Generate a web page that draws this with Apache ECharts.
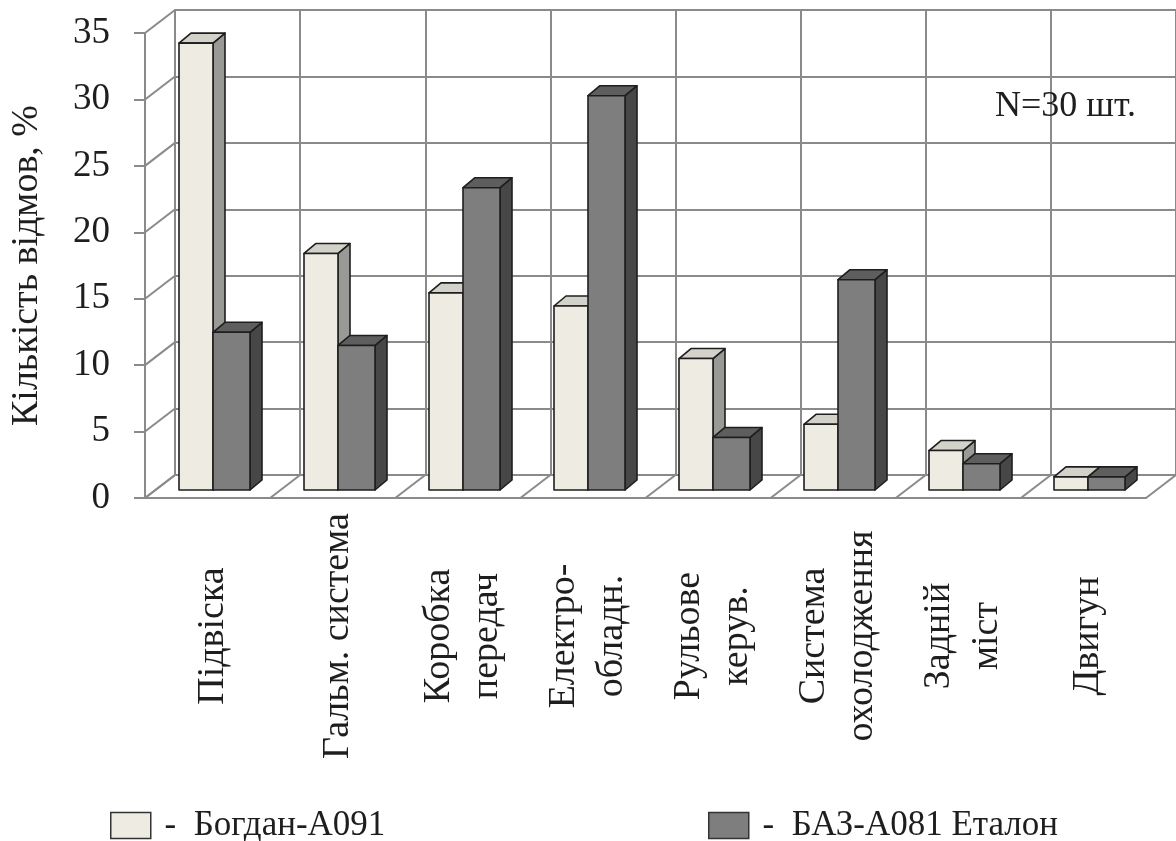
<!DOCTYPE html>
<html>
<head>
<meta charset="utf-8">
<script src="https://cdn.jsdelivr.net/npm/echarts@6.0.0/dist/echarts.min.js"></script>
<style>
  html, body { margin: 0; padding: 0; background: #fff; }
  #chart { width: 1176px; height: 841px; }
</style>
</head>
<body>
<div id="chart"></div>
<script>
// data
const CATEGORIES = ['Підвіска', 'Гальм. система', 'Коробка\nпередач', 'Електро-\nобладн.',
  'Рульове\nкерув.', 'Система\nохолодження', 'Задній\nміст', 'Двигун'];
const SERIES_NAMES = ['Богдан-А091', 'БАЗ-А081 Еталон'];
const BOGDAN = [34, 18, 15, 14, 10, 5, 3, 1];
const BAZ = [12, 11, 23, 30, 4, 16, 2, 1];
const Y_TICKS = [0, 5, 10, 15, 20, 25, 30, 35];
const BOUNDARIES = [0, 1, 2, 3, 4, 5, 6, 7, 8];

const FONT = '"Liberation Serif", "Times New Roman", serif';
const INK = '#1e1e1e';
const WALL = '#8a8a8a';

// pseudo-3d layout: front edge, back wall, plane the bars stand on
const FRONT = { left: 145, right: 30, top: 33, bottom: 343 };
const BACK = { left: 175, right: 0, top: 10, bottom: 366 };
const BARS = { left: 150.5, right: 25.5, top: 30, bottom: 351 };
const DEPTH_X = BACK.left - FRONT.left;
const DEPTH_Y = FRONT.bottom - BACK.bottom;
const BAR_DX = 12, BAR_DY = -10;
const LIGHT_W = 34, DARK_W = 37;

const LIGHT = { front: '#eeece2', side: '#999996', top: '#d2d1ca' };
const DARK = { front: '#7e7e7e', side: '#474747', top: '#5e5e5e' };

const chart = echarts.init(document.getElementById('chart'), null, { renderer: 'canvas' });

const wallLine = (params, api) => {
  const p = api.coord([api.value(0), api.value(1)]);
  return {
    type: 'line',
    shape: { x1: p[0], y1: p[1], x2: p[0] + DEPTH_X, y2: p[1] + DEPTH_Y },
    style: { stroke: WALL, lineWidth: 2 }
  };
};

const barRenderer = (onLeft, colors) => (params, api) => {
  const base = api.coord([api.value(0), 0]);
  const top = api.coord([api.value(0), api.value(1)]);
  const x0 = onLeft ? base[0] - LIGHT_W : base[0];
  const x1 = onLeft ? base[0] : base[0] + DARK_W;
  const y0 = base[1], y1 = top[1];
  const edge = { stroke: INK, lineWidth: 1.6, lineJoin: 'round' };
  return {
    type: 'group',
    children: [
      { type: 'polygon', shape: { points: [[x1, y0], [x1 + BAR_DX, y0 + BAR_DY], [x1 + BAR_DX, y1 + BAR_DY], [x1, y1]] },
        style: { fill: colors.side, ...edge } },
      { type: 'polygon', shape: { points: [[x0, y1], [x0 + BAR_DX, y1 + BAR_DY], [x1 + BAR_DX, y1 + BAR_DY], [x1, y1]] },
        style: { fill: colors.top, ...edge } },
      { type: 'rect', shape: { x: x0, y: y1, width: x1 - x0, height: y0 - y1 },
        style: { fill: colors.front, ...edge } }
    ]
  };
};

const legendItem = (left, name, colors) => ({
  left, top: 803,
  selectedMode: false,
  itemWidth: 40, itemHeight: 26,
  data: [{ name, icon: 'rect', itemStyle: { color: colors.front, borderColor: '#333', borderWidth: 1.5 } }],
  formatter: (n) => ' -  ' + n,
  textStyle: { fontFamily: FONT, fontSize: 35, color: INK, lineHeight: 32 }
});

const hiddenAxisBits = { axisLabel: { show: false }, axisTick: { show: false } };

const option = {
  backgroundColor: '#ffffff',
  animation: false,
  title: {
    text: 'N=30 шт.', left: 995, top: 89, padding: 0,
    textStyle: { fontFamily: FONT, fontSize: 36, fontWeight: 'normal', color: INK }
  },
  legend: [
    legendItem(105, SERIES_NAMES[0], LIGHT),
    legendItem(703, SERIES_NAMES[1], DARK)
  ],
  grid: [BACK, FRONT, BARS].map(g => ({ ...g, containLabel: false, outerBoundsMode: 'none' })),
  xAxis: [
    { gridIndex: 0, type: 'value', min: 0, max: 8, interval: 1, ...hiddenAxisBits,
      axisLine: { show: false }, splitLine: { show: true, lineStyle: { color: WALL, width: 2 } } },
    { gridIndex: 1, type: 'value', min: 0, max: 8, interval: 1, ...hiddenAxisBits,
      axisLine: { show: true, lineStyle: { color: WALL, width: 2 } }, splitLine: { show: false } },
    { gridIndex: 2, type: 'category', data: CATEGORIES,
      axisLine: { show: false }, axisTick: { show: false }, splitLine: { show: false },
      axisLabel: {
        interval: 0, rotate: 90, margin: 146, align: 'center', verticalAlign: 'middle',
        fontFamily: FONT, fontSize: 38, lineHeight: 48, color: INK
      } }
  ],
  yAxis: [
    { gridIndex: 0, type: 'value', min: 0, max: 35, interval: 5, ...hiddenAxisBits,
      axisLine: { show: true, lineStyle: { color: WALL, width: 2 } },
      splitLine: { show: true, lineStyle: { color: WALL, width: 2 } } },
    { gridIndex: 1, type: 'value', min: 0, max: 35, interval: 5,
      name: 'Кількість відмов, %', nameLocation: 'middle', nameRotate: 90, nameGap: 99,
      nameTextStyle: { fontFamily: FONT, fontSize: 38, color: INK },
      axisLine: { show: true, lineStyle: { color: WALL, width: 2 } },
      axisTick: { show: true, length: 11, lineStyle: { color: WALL, width: 2 } },
      axisLabel: { margin: 35, fontFamily: FONT, fontSize: 37, color: INK },
      splitLine: { show: false } },
    { gridIndex: 2, type: 'value', min: 0, max: 35, show: false }
  ],
  series: [
    { type: 'custom', name: 'leftWall', xAxisIndex: 1, yAxisIndex: 1, z: 1, silent: true,
      renderItem: wallLine, data: Y_TICKS.map(v => [0, v]) },
    { type: 'custom', name: 'floor', xAxisIndex: 1, yAxisIndex: 1, z: 1, silent: true,
      renderItem: wallLine, data: BOUNDARIES.map(k => [k, 0]) },
    { type: 'custom', name: SERIES_NAMES[0], xAxisIndex: 2, yAxisIndex: 2, z: 3,
      itemStyle: { color: LIGHT.front },
      renderItem: barRenderer(true, LIGHT), data: BOGDAN.map((v, i) => [i, v]) },
    { type: 'custom', name: SERIES_NAMES[1], xAxisIndex: 2, yAxisIndex: 2, z: 3,
      itemStyle: { color: DARK.front },
      renderItem: barRenderer(false, DARK), data: BAZ.map((v, i) => [i, v]) }
  ]
};

chart.setOption(option);
</script>
</body>
</html>
